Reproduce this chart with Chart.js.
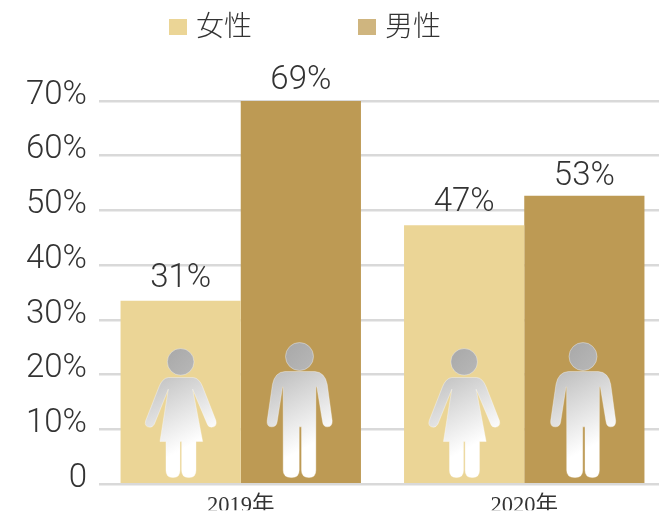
<!DOCTYPE html>
<html><head><meta charset="utf-8">
<style>html,body{margin:0;padding:0;background:#fff;overflow:hidden;width:659px;height:516px}
#w{position:absolute;left:0;top:0;width:659px;height:516px;overflow:hidden}
canvas{display:block}</style>
<script src="https://cdn.jsdelivr.net/npm/chart.js@4"></script>
</head><body><div id="w"><canvas id="c" width="666" height="516"></canvas></div>
<script>
const categories = ['2019年', '2020年'];
const seriesNames = ['女性', '男性'];
const femaleHeights = [33.5, 47.3];
const maleHeights = [70.2, 52.7];
const femaleLabels = ['31%', '47%'];
const maleLabels = ['69%', '53%'];
const yTicks = [0, 10, 20, 30, 40, 50, 60, 70];

const FEMALE='#ebd596', MALE='#bd9a54', LEGEND_MALE='#cfb57f';
const NUM_FONT='300 33px Roboto, sans-serif';

const femalePts=[[175,150],[250,150],['q',268,152,278,178],[318,280],['q',322,298,305,299],['q',295,299,292,290],[248,185],[278,342],[258,342],[258,428],['q',258,450,238,450],[235,450],['q',215,450,215,428],[215,342],[210,342],[210,428],['q',210,450,190,450],[188,450],['q',168,450,168,428],[168,342],[150,342],[175,185],[133,290],['q',128,299,120,299],['q',102,298,107,280],[147,178],['q',157,152,175,150]];
const malePts=[[525,132],[615,132],['q',645,134,652,170],[667,280],['q',668,298,652,298],['q',640,298,638,282],[621,178],[618,178],[618,428],['q',618,450,598,450],[597,450],['q',575,450,575,428],[575,298],[568,298],[568,428],['q',568,450,546,450],[544,450],['q',520,450,520,428],[520,178],[518,178],[502,282],['q',500,298,486,298],['q',470,298,472,280],[488,170],['q',495,134,525,132]];

function icon(ctx,pts,zx0,cx,base,head){
  const X=z=>cx+(z-zx0)/3, Y=z=>base+(z-473)/3;
  const hg=ctx.createLinearGradient(X(head[0])-head[2]/3,Y(head[1])-head[2]/3,X(head[0])+head[2]/3,Y(head[1])+head[2]/3);
  hg.addColorStop(0,'#a8a8a8');hg.addColorStop(1,'#b8b8b8');
  ctx.save();
  ctx.strokeStyle='rgba(255,255,255,0.45)';ctx.lineWidth=0.8;
  ctx.beginPath();ctx.arc(X(head[0]),Y(head[1]),head[2]/3,0,Math.PI*2);ctx.fillStyle=hg;ctx.fill();ctx.stroke();
  const g=ctx.createLinearGradient(cx-25,Y(140),cx+22,Y(400));
  g.addColorStop(0,'#c0c0c0');g.addColorStop(0.8,'#ffffff');g.addColorStop(1,'#ffffff');
  ctx.beginPath();
  pts.forEach((p,i)=>{
    if(p[0]==='q')ctx.quadraticCurveTo(X(p[1]),Y(p[2]),X(p[3]),Y(p[4]));
    else if(i===0)ctx.moveTo(X(p[0]),Y(p[1]));else ctx.lineTo(X(p[0]),Y(p[1]));
  });
  ctx.closePath();ctx.fillStyle=g;ctx.fill();ctx.stroke();
  ctx.restore();
}

const extras={id:'extras',
  afterDatasetsDraw(chart){
    const ctx=chart.ctx, base=chart.scales.y.getPixelForValue(0)+1;
    const m0=chart.getDatasetMeta(0).data, m1=chart.getDatasetMeta(1).data;
    m0.forEach(b=>icon(ctx,femalePts,212,b.x,base,[212,103,40]));
    m1.forEach(b=>icon(ctx,malePts,573,b.x,base,[569,87,42]));
    ctx.save();ctx.font=NUM_FONT;ctx.fillStyle='#333';ctx.textAlign='center';ctx.textBaseline='alphabetic';
    m0.forEach((b,i)=>ctx.fillText(femaleLabels[i],b.x,b.y-14));
    m1.forEach((b,i)=>ctx.fillText(maleLabels[i],b.x,b.y-11));
    ctx.restore();
    ctx.save();ctx.font='300 28px "Noto Sans CJK JP", sans-serif';ctx.textBaseline='middle';ctx.textAlign='left';
    [[169,FEMALE],[358,LEGEND_MALE]].forEach((s,i)=>{
      ctx.fillStyle=s[1];ctx.fillRect(s[0],19,18,16);
      ctx.fillStyle='#333';ctx.fillText(seriesNames[i],s[0]+27,25);
    });
    ctx.restore();
  }};

new Chart(document.getElementById('c'),{
  type:'bar',
  data:{labels:categories,datasets:[
    {label:seriesNames[0],data:femaleHeights,backgroundColor:FEMALE,categoryPercentage:0.848,barPercentage:1},
    {label:seriesNames[1],data:maleHeights,backgroundColor:MALE,categoryPercentage:0.848,barPercentage:1}]},
  options:{responsive:false,animation:false,
    layout:{padding:{top:101,left:0,right:0,bottom:0}},
    plugins:{legend:{display:false},tooltip:{enabled:false}},
    scales:{
      x:{grid:{display:false},border:{display:false},
        ticks:{padding:0,color:'#333',font:{family:'"Liberation Serif","Noto Sans CJK JP",serif',size:22.5}},
        afterFit(s){s.height=26;}},
      y:{min:0,max:70,afterBuildTicks(s){s.ticks=yTicks.map(v=>({value:v}));},
        grid:{color:'#d9d9d9',lineWidth:2.5,drawTicks:false},border:{display:false},
        ticks:{padding:12,labelOffset:-5.5,color:'#333',font:{family:'Roboto',weight:'300',size:33},
          callback:v=>v===0?'0':v+'%'},
        afterFit(s){s.width=99;}}
    }},
  plugins:[extras]});
</script></body></html>
